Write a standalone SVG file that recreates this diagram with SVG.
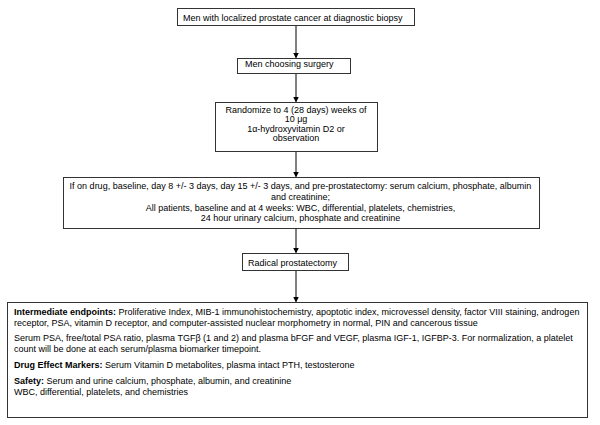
<svg xmlns="http://www.w3.org/2000/svg" width="600" height="425" viewBox="0 0 600 425">
<defs>
<marker id="ah" markerWidth="6" markerHeight="6" refX="5" refY="3" orient="auto" markerUnits="userSpaceOnUse">
<path d="M0,0 L6,3 L0,6 z" fill="#000"/>
</marker>
<style>
.box{fill:#fff;stroke:#333;stroke-width:1}
.t{font-family:"Liberation Sans",Arial,sans-serif;font-size:9px;fill:#000}
.s{font-size:9px}
.c{text-anchor:middle}
.b{font-weight:bold}
.conn line{stroke:#000;stroke-width:1;marker-end:url(#ah)}
</style>
</defs>
<rect width="600" height="425" fill="#fff"/>
<g id="connectors" class="conn">
<line x1="296" y1="26" x2="296" y2="57.5"/>
<line x1="296" y1="73" x2="296" y2="101.5"/>
<line x1="296" y1="152" x2="296" y2="176.5"/>
<line x1="296" y1="228" x2="296" y2="252.5"/>
<line x1="296" y1="271" x2="296" y2="301.5"/>
</g>
<g id="n1">
<rect class="box" x="177.5" y="8.5" width="237" height="17"/>
<text class="t" x="183" y="20.5">Men with localized prostate cancer at diagnostic biopsy</text>
</g>
<g id="n2">
<rect class="box" x="237.5" y="58.5" width="113" height="15"/>
<text class="t" x="245" y="67">Men choosing surgery</text>
</g>
<g id="n3">
<rect class="box" x="215.5" y="102.5" width="162" height="49"/>
<text class="t c" x="296" y="113">Randomize to 4 (28 days) weeks of</text>
<text class="t c" x="296" y="122">10 μg</text>
<text class="t c" x="296" y="131.5">1α-hydroxyvitamin D2 or</text>
<text class="t c" x="296" y="141">observation</text>
</g>
<g id="n4">
<rect class="box" x="63.5" y="177.5" width="476" height="51"/>
<text class="t c" x="300.5" y="189">If on drug, baseline, day 8 +/- 3 days, day 15 +/- 3 days, and pre-prostatectomy: serum calcium, phosphate, albumin</text>
<text class="t c" x="300.5" y="200">and creatinine;</text>
<text class="t c" x="300.5" y="210.5">All patients, baseline and at 4 weeks: WBC, differential, platelets, chemistries,</text>
<text class="t c" x="300.5" y="221">24 hour urinary calcium, phosphate and creatinine</text>
</g>
<g id="n5">
<rect class="box" x="242.5" y="253.5" width="106" height="17"/>
<text class="t" x="248" y="265.5">Radical prostatectomy</text>
</g>
<g id="n6">
<rect class="box" x="7.5" y="302.5" width="580" height="115"/>
<text class="t s" x="14" y="315"><tspan class="b">Intermediate endpoints:</tspan> Proliferative Index, MIB-1 immunohistochemistry, apoptotic index, microvessel density, factor VIII staining, androgen</text>
<text class="t s" x="14" y="325.5">receptor, PSA, vitamin D receptor, and computer-assisted nuclear morphometry in normal, PIN and cancerous tissue</text>
<text class="t s" x="14" y="341">Serum PSA, free/total PSA ratio, plasma TGFβ (1 and 2) and plasma bFGF and VEGF, plasma IGF-1, IGFBP-3. For normalization, a platelet</text>
<text class="t s" x="14" y="352">count will be done at each serum/plasma biomarker timepoint.</text>
<text class="t s" x="14" y="368"><tspan class="b">Drug Effect Markers:</tspan>  Serum Vitamin D metabolites, plasma intact PTH, testosterone</text>
<text class="t s" x="14" y="384"><tspan class="b">Safety:</tspan> Serum and urine calcium, phosphate, albumin, and creatinine</text>
<text class="t s" x="14" y="395">WBC, differential, platelets, and chemistries</text>
</g>
</svg>
